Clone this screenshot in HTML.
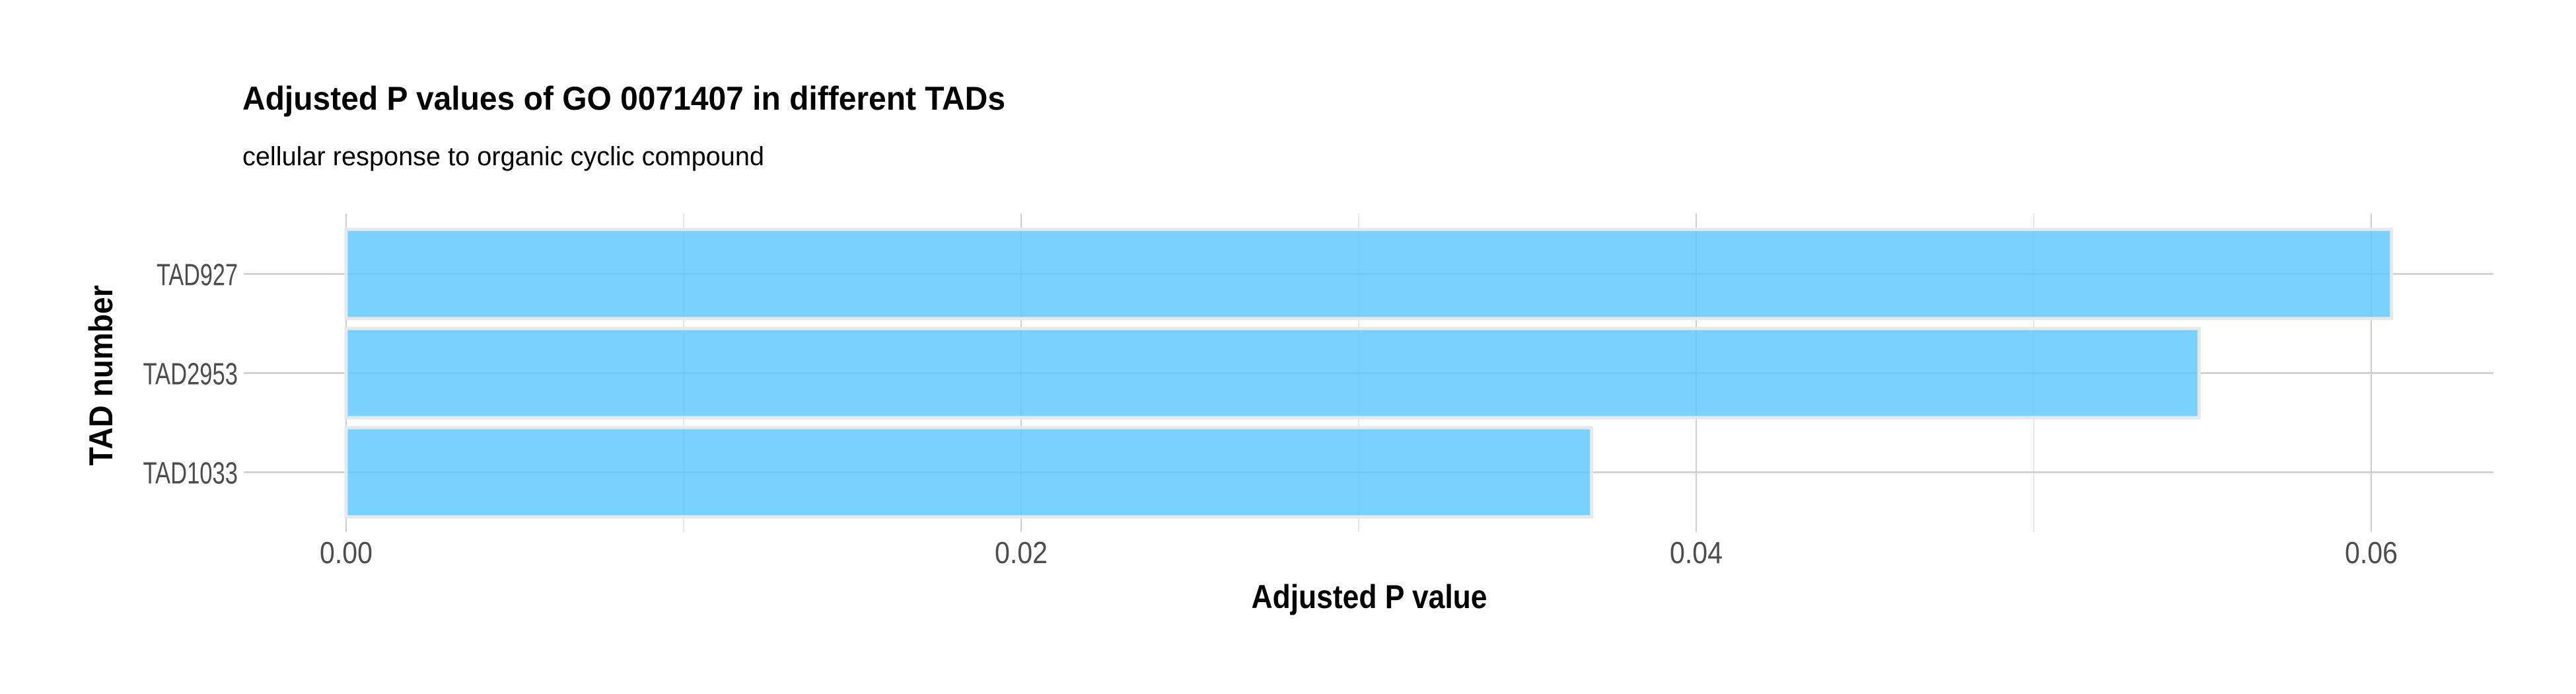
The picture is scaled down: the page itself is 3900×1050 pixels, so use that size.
<!DOCTYPE html>
<html><head><meta charset="utf-8"><style>
html,body{margin:0;padding:0;background:#fff;}
svg{display:block;font-family:"Liberation Sans",sans-serif;}
</style></head><body>
<svg id="chart" width="3900" height="1050" viewBox="0 0 3900 1050" xmlns="http://www.w3.org/2000/svg">
<rect width="3900" height="1050" fill="#fff"/>
<text x="367" y="166" font-size="50" font-weight="bold" fill="#000" textLength="1155" lengthAdjust="spacingAndGlyphs">Adjusted P values of GO 0071407 in different TADs</text>
<text x="367" y="250" font-size="40" fill="#000" textLength="790" lengthAdjust="spacingAndGlyphs">cellular response to organic cyclic compound</text>
<g id="grid"></g>
<g id="bars"></g>
<g id="yticks"></g>
<g id="xticks"></g>
<text x="2073" y="920" font-size="50" font-weight="bold" text-anchor="middle" fill="#000" textLength="357" lengthAdjust="spacingAndGlyphs">Adjusted P value</text>
<text transform="translate(170,568) rotate(-90)" font-size="50" font-weight="bold" text-anchor="middle" fill="#000" textLength="273" lengthAdjust="spacingAndGlyphs">TAD number</text>
</svg>
<script>
const categories = ["TAD927", "TAD2953", "TAD1033"];
const values = [0.0606, 0.0549, 0.0369];
const xTicks = [0, 0.02, 0.04, 0.06];
const xTickLabels = ["0.00", "0.02", "0.04", "0.06"];
const xMinor = [0.01, 0.03, 0.05];

const NS = "http://www.w3.org/2000/svg";
const x0 = 524, pxPerUnit = (1546 - 524) / 0.02;
const xs = v => x0 + v * pxPerUnit;
const yTop = 339.5, band = 150;
const ys = i => yTop + band * (i + 0.5);
const panelL = 369, panelR = 3775, panelT = 323, panelB = 805;
function mk(tag, attrs, parent) {
  const e = document.createElementNS(NS, tag);
  for (const k in attrs) e.setAttribute(k, attrs[k]);
  parent.appendChild(e);
  return e;
}
const grid = document.getElementById('grid');
xMinor.forEach(v => {
  const l = mk('line', {x1: xs(v), x2: xs(v), y1: panelT, y2: panelB, stroke: '#e0e0e0', 'stroke-width': 1.5}, grid);
  
  
});
xTicks.forEach(v => {
  const l = mk('line', {x1: xs(v), x2: xs(v), y1: panelT, y2: panelB, stroke: '#cfcfcf', 'stroke-width': 2}, grid);
  
  
});
categories.forEach((c, i) => {
  const l = mk('line', {x1: panelL, x2: panelR, y1: ys(i), y2: ys(i), stroke: '#cccccc', 'stroke-width': 2.5}, grid);
  
  
});
const bars = document.getElementById('bars');
const bh = band * 0.9;
values.forEach((v, i) => {
  const r = mk('rect', {x: xs(0), y: ys(i) - bh / 2, width: xs(v) - xs(0), height: bh,
    fill: 'rgba(91,199,252,0.82)', stroke: '#e6e9ec', 'stroke-width': 5}, bars);
  
  
});
const yt = document.getElementById('yticks');
categories.forEach((c, i) => {
  const t = mk('text', {x: 360, y: ys(i) + 17, 'font-size': 46, 'text-anchor': 'end', fill: '#4d4d4d',
    textLength: c.length * 20.5, lengthAdjust: 'spacingAndGlyphs'}, yt);
  t.textContent = c;
  
  
});
const xt = document.getElementById('xticks');
xTicks.forEach((v, i) => {
  const t = mk('text', {x: xs(v), y: 852, 'font-size': 46, 'text-anchor': 'middle', fill: '#4d4d4d',
    textLength: 80, lengthAdjust: 'spacingAndGlyphs'}, xt);
  t.textContent = xTickLabels[i];
  
  
});
</script>
</body></html>
